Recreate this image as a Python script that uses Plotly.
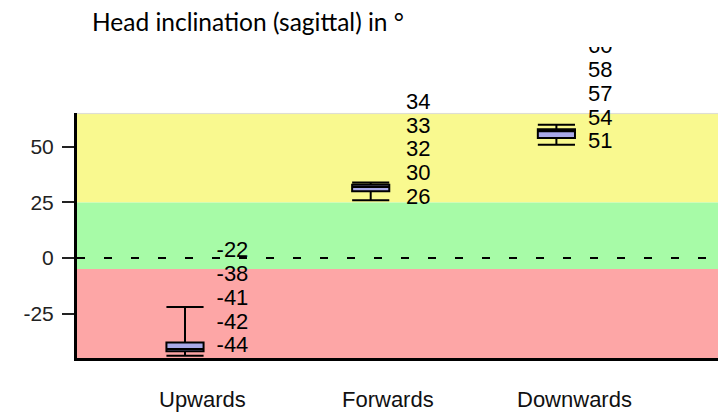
import plotly.graph_objects as go

categories = ["Upwards", "Forwards", "Downwards"]
minimum = [-44, 26, 51]
q1 = [-42, 30, 54]
median = [-41, 32, 57]
q3 = [-38, 33, 58]
maximum = [-22, 34, 60]
y_ticks = [-25, 0, 25, 50]
y_tick_text = ["-25", "0", "25", "50"]

W, H = 718, 418
M_L, M_R, M_T, M_B = 77, 0, 47, 60
Y_LO, Y_HI = -45, 65.4
PX_PER_UNIT = 2.222
plot_h = H - M_T - M_B
main_h = (Y_HI - Y_LO) * PX_PER_UNIT
y2_hi = Y_LO + plot_h / PX_PER_UNIT

pos = list(range(len(categories)))

fig = go.Figure()

fig.add_trace(go.Box(
    x=pos, q1=q1, median=median, q3=q3,
    lowerfence=minimum, upperfence=maximum,
    width=0.2, whiskerwidth=1,
    fillcolor="#a9a9e8",
    line=dict(color="black", width=2),
    boxpoints=False, hoverinfo="skip", showlegend=False,
    xaxis="x", yaxis="y",
))

# stacked value labels (five-number summary) next to each box
step = 10.7
for i, p in enumerate(pos):
    vals = [minimum[i], q1[i], median[i], q3[i], maximum[i]]
    base = max(minimum[i] + 0.8, Y_LO + 5.0)
    ys = [base + k * step for k in range(len(vals))]
    fig.add_trace(go.Scatter(
        x=[p + 0.17 + 0.02 * (p == 1)] * len(vals), y=ys, text=[str(v) for v in vals],
        mode="text", textposition="middle right",
        textfont=dict(family="Liberation Sans, Arial", size=22, color="black"),
        cliponaxis=True, hoverinfo="skip", showlegend=False,
        xaxis="x", yaxis="y2",
    ))

bands = [(25, Y_HI, "#f9f98f"), (-5, 25, "#a7fba7"), (Y_LO, -5, "#fda6a6")]
shapes = []
for y0, y1, c in bands:
    shapes.append(dict(type="rect", xref="x domain", yref="y", x0=0, x1=1,
                       y0=y0, y1=y1, fillcolor=c, line=dict(width=0), layer="below"))
shapes.append(dict(type="line", xref="x domain", yref="y", x0=0, x1=1, y0=65, y1=65,
                   line=dict(color="#dcdcdc", width=1), layer="below"))
shapes.append(dict(type="line", xref="x domain", yref="y", x0=0, x1=1, y0=0, y1=0,
                   line=dict(color="black", width=2, dash="8px,19px"), layer="below"))

annotations = []
for i, c in enumerate(categories):
    annotations.append(dict(x=pos[i] + 0.095, xref="x", y=-(399 - (H - M_B)) / plot_h,
                            yref="paper", text=c, showarrow=False, xanchor="center",
                            yanchor="middle",
                            font=dict(family="Liberation Sans, Arial", size=22, color="#111")))

x_left = -(185 - M_L) / 185.7
x_right = (W - 185) / 185.7

fig.update_layout(
    width=W, height=H,
    margin=dict(l=M_L, r=M_R, t=M_T, b=M_B, pad=0),
    paper_bgcolor="white", plot_bgcolor="rgba(0,0,0,0)",
    title=dict(text="Head inclination (sagittal) in °", x=92 / W, xref="container",
               xanchor="left", y=1 - 22 / H, yref="container", yanchor="middle",
               font=dict(family="Lato, Carlito, sans-serif", size=24.5, color="black")),
    xaxis=dict(range=[x_left, x_right], showgrid=False, zeroline=False,
               showticklabels=False, ticks="", showline=True, linecolor="black",
               linewidth=3, anchor="y"),
    yaxis=dict(range=[Y_LO, Y_HI], domain=[0, main_h / plot_h], tickvals=y_ticks,
               ticktext=y_tick_text,
               showgrid=False, zeroline=False, showline=True, linecolor="black",
               linewidth=3, ticks="outside", ticklen=12, tickwidth=2, tickcolor="#222",
               ticklabelstandoff=4,
               tickfont=dict(family="Liberation Sans, Arial", size=21, color="#222"),
               anchor="x"),
    yaxis2=dict(range=[Y_LO, y2_hi], domain=[0, 1], visible=False, anchor="x",
                showgrid=False, zeroline=False),
    shapes=shapes, annotations=annotations,
)

fig.write_html("out.html", config={"displayModeBar": False},
               post_script="document.body.style.margin='0';document.body.style.padding='0';")
